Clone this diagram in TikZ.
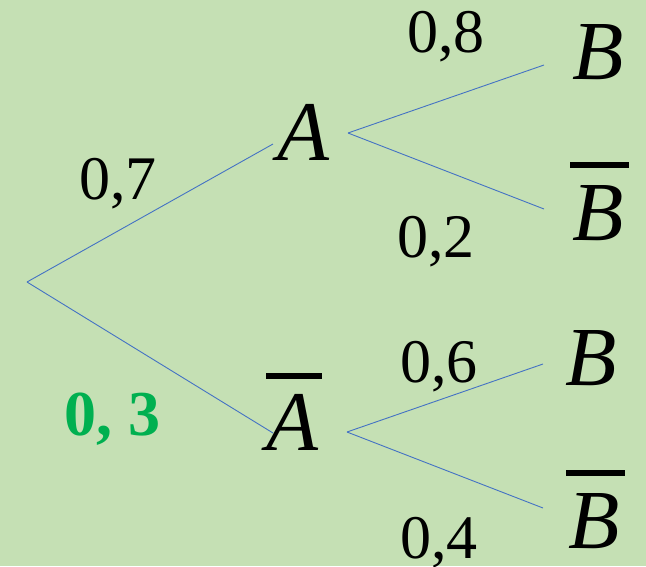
\documentclass[tikz,border=0pt]{standalone}
\usepackage{fontspec}
\setmainfont{Liberation Serif}
\definecolor{bgc}{HTML}{C5E0B4}
\definecolor{lnc}{HTML}{4472C4}
\definecolor{grn}{HTML}{00B050}
\begin{document}
\begin{tikzpicture}[x=1pt,y=-1pt,
  branch/.style={draw=lnc,line width=0.9pt},
  prob/.style={anchor=base,inner sep=0pt,font=\fontsize{62}{74}\selectfont},
  evA/.style={anchor=base,inner sep=0pt,font=\fontsize{85}{100}\selectfont\itshape},
  evB/.style={anchor=base,inner sep=0pt,font=\fontsize{84}{100}\selectfont\itshape},
  barline/.style={fill=black}]
\fill[bgc] (0,0) rectangle (646,566);
\useasboundingbox (0,0) rectangle (646,566);
% branch points
\coordinate (root) at (27,282);
\coordinate (Ain) at (273,144);
\coordinate (Aout) at (348,133);
\coordinate (Abin) at (273,433);
\coordinate (About) at (347,432);
\coordinate (B1) at (544,65);
\coordinate (Bb1) at (544,209);
\coordinate (B2) at (543,364);
\coordinate (Bb2) at (543,508);
% connectors
\draw[branch] (root) -- (Ain);
\draw[branch] (root) -- (Abin);
\draw[branch] (Aout) -- (B1);
\draw[branch] (Aout) -- (Bb1);
\draw[branch] (About) -- (B2);
\draw[branch] (About) -- (Bb2);
% events
\node[evA] (A) at (303,160) {A};
\node[evA] (Ab) at (292,450) {A};
\fill[barline] (266,373) rectangle (322,378.5);
\node[evB] (tB1) at (598,79) {B};
\node[evB] (tBb1) at (598,240) {B};
\fill[barline] (570,162) rectangle (629,168);
\node[evB] (tB2) at (591,385) {B};
\node[evB] (tBb2) at (594,548) {B};
\fill[barline] (566,470) rectangle (625,476);
% probabilities
\node[prob] (p7) at (118,199) {0,7};
\node[prob,text=grn,font=\fontsize{64}{76}\selectfont\bfseries] (p3) at (112,435) {0, 3};
\node[prob] (p8) at (446,52) {0,8};
\node[prob] (p2) at (436,257) {0,2};
\node[prob] (p6) at (439,382) {0,6};
\node[prob] (p4) at (439,558) {0,4};
\end{tikzpicture}
\end{document}
